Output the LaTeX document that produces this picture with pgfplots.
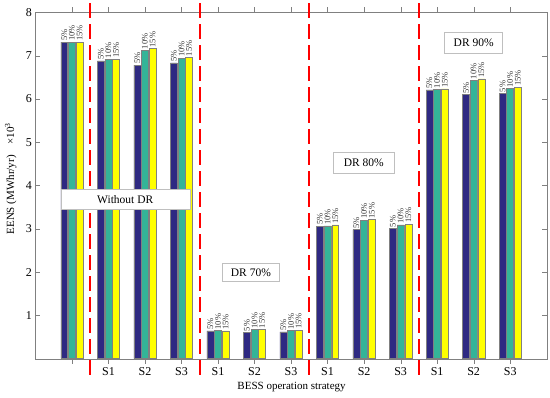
\documentclass[border=0pt]{standalone}
\usepackage{pgfplots}
\pgfplotsset{compat=1.18}
\usepackage{fontspec}
\setmainfont{Liberation Serif}
\definecolor{navy}{RGB}{46,41,130}
\definecolor{tealx}{RGB}{52,180,152}
\definecolor{yelx}{RGB}{255,255,0}
\definecolor{axgray}{RGB}{128,128,128}
\begin{document}
\begin{tikzpicture}
\useasboundingbox (0,0) rectangle (550bp,398bp);
\begin{axis}[
  at={(35.4bp,39.3bp)}, anchor=south west,
  scale only axis, width=511.3bp, height=346.4bp,
  xmin=0, xmax=14, ymin=0, ymax=8,
  ytick={1,...,8},
  xtick={1,...,13},
  xticklabels={,S1,S2,S3,S1,S2,S3,S1,S2,S3,S1,S2,S3},
  tick align=inside,
  major tick length=5bp,
  axis line style={axgray},
  tick style={axgray},
  ticklabel style={font=\fontsize{12bp}{13bp}\selectfont, text=black},
  /pgf/number format/assume math mode=true,
  ybar, bar width=0.19,
  clip=false,
  xlabel={BESS operation strategy},
  ylabel={EENS (MWhr/yr)\quad ×10\textsuperscript{3}},
  label style={font=\fontsize{11bp}{13bp}\selectfont},
  xlabel style={at={(axis description cs:0.501,-0.081)}, anchor=center},
  ylabel style={at={(axis description cs:-0.048,0.52)}, anchor=center},
  every node near coord/.append style={rotate=90, anchor=west, inner sep=1bp, font=\fontsize{8.5bp}{9bp}\selectfont, text=black!80},
]
\addplot[fill=navy, draw=axgray, line width=0.5bp, bar shift=-0.21, nodes near coords={5\%}] coordinates {
(1,7.31) (2,6.88) (3,6.78) (4,6.83)
(5,0.64) (6,0.61) (7,0.62)
(8,3.06) (9,2.98) (10,3.01)
(11,6.21) (12,6.10) (13,6.13)};
\addplot[fill=tealx, draw=axgray, line width=0.5bp, bar shift=0, nodes near coords={10\%}] coordinates {
(1,7.31) (2,6.91) (3,7.12) (4,6.94)
(5,0.65) (6,0.67) (7,0.65)
(8,3.07) (9,3.20) (10,3.09)
(11,6.22) (12,6.43) (13,6.24)};
\addplot[fill=yelx, draw=axgray, line width=0.5bp, bar shift=0.21, nodes near coords={15\%}] coordinates {
(1,7.31) (2,6.92) (3,7.16) (4,6.96)
(5,0.64) (6,0.68) (7,0.66)
(8,3.09) (9,3.21) (10,3.11)
(11,6.23) (12,6.46) (13,6.27)};
\foreach \xx in {1.5,4.5,7.5,10.5}{
  \edef\tmp{\noexpand\draw[red, line width=2bp, dash pattern=on 15bp off 6bp] (axis cs:\xx,8.21) -- (axis cs:\xx,-0.42);}
  \tmp
}
\tikzset{box/.style={draw=black!25, fill=white, inner sep=0pt, font=\fontsize{11.5bp}{13bp}\selectfont}}
\node[box, minimum width=129bp, minimum height=20bp] at (axis cs:2.46,3.68) {Without DR};
\node[box, minimum width=57bp, minimum height=18bp] at (axis cs:5.90,1.99) {DR 70\%};
\node[box, minimum width=61bp, minimum height=21bp] at (axis cs:8.99,4.52) {DR 80\%};
\node[box, minimum width=58bp, minimum height=21bp] at (axis cs:12.0,7.30) {DR 90\%};
\end{axis}
\end{tikzpicture}
\end{document}
